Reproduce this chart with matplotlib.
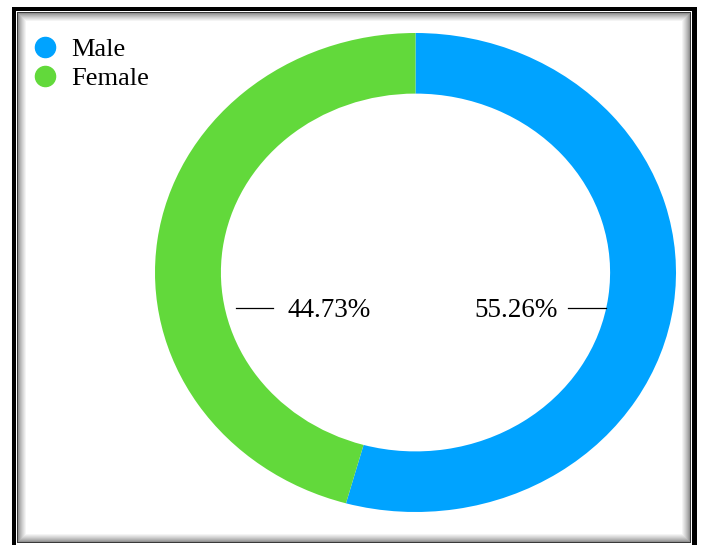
import matplotlib
matplotlib.use("Agg")
import matplotlib.pyplot as plt
from matplotlib.patches import Rectangle
from matplotlib.lines import Line2D

# data
labels = ["Male", "Female"]
shares = [54.3, 45.7]                 # arc sizes as drawn in the picture
pct_labels = ["55.26%", "44.73%"]     # label texts as printed
colors = ["#00A3FF", "#62D93B"]

W, H = 701, 545
fig = plt.figure(figsize=(W / 100, H / 100), dpi=100)
fig.patch.set_facecolor("white")

# background axes in pixel units, for the framed box
bg = fig.add_axes([0, 0, 1, 1])
bg.set_xlim(0, W)
bg.set_ylim(H, 0)
bg.axis("off")

bg.add_patch(Rectangle((12, 7), 685, 560, facecolor="black", lw=0, antialiased=False))
bg.add_patch(Rectangle((16, 11), 676, 540, facecolor="white", lw=0, antialiased=False))
# inset shadow: thin dark line then a soft fade
bg.add_patch(Rectangle((17, 12), 674, 531, facecolor="#3a3a3a", lw=0, antialiased=False))
n = 10
for i in range(1, n):
    g = 0.45 + 0.55 * (i / (n - 1)) ** 0.7
    bg.add_patch(Rectangle((17 + i, 12 + i), 674 - 2 * i, 531 - 2 * i,
                           facecolor=(g, g, g), lw=0, antialiased=False))
bg.add_patch(Rectangle((17 + n, 12 + n), 674 - 2 * n, 531 - 2 * n,
                       facecolor="white", lw=0, antialiased=False))

# donut (stretched, not equal aspect)
ax = fig.add_axes([155 / W, 33 / H, 521 / W, 479 / H])
wedges, _ = ax.pie(shares, colors=colors, startangle=90, counterclock=False,
                   wedgeprops=dict(width=0.253, linewidth=0))
ax.set_aspect("auto")
ax.set_xlim(-1, 1)
ax.set_ylim(-1, 1)

tfont = dict(family="Liberation Serif", size=19.5, color="black")
ly = -0.148
ty = -0.1845
# female label (left)
ax.plot([-0.689, -0.547], [ly, ly], color="black", lw=0.9)
ax.text(-0.493, ty, pct_labels[1], ha="left", va="baseline", **tfont)
# male label (right)
ax.plot([0.585, 0.731], [ly, ly], color="black", lw=0.9)
ax.text(0.547, ty, pct_labels[0], ha="right", va="baseline", **tfont)

handles = [Line2D([], [], ls="", marker="o", markersize=14.5, color=c) for c in colors]
fig.legend(handles, labels, loc="upper left", bbox_to_anchor=(32 / W, 1 - 38 / H),
           frameon=False, prop=dict(family="Liberation Serif", size=19),
           handletextpad=0.48, labelspacing=0.2, borderpad=0, borderaxespad=0,
           handlelength=1.0)

fig.savefig("out.png", dpi=100)
